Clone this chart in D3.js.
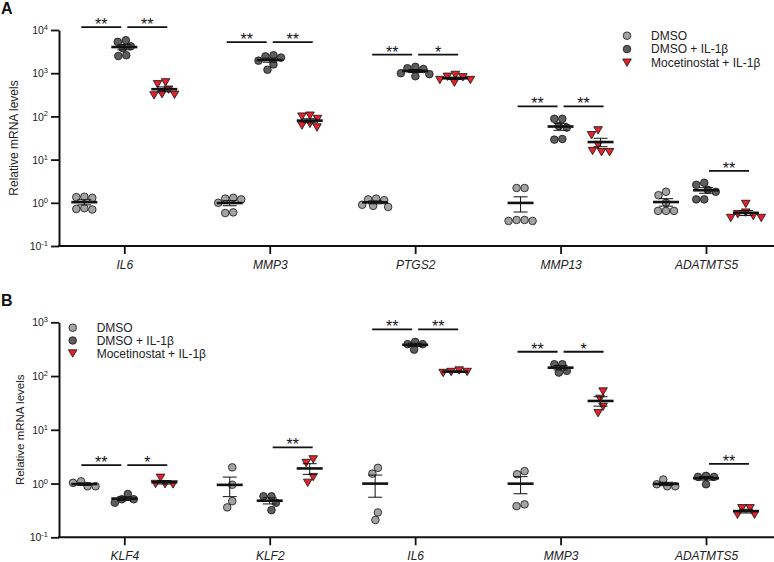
<!DOCTYPE html>
<html><head><meta charset="utf-8">
<script src="https://cdn.jsdelivr.net/npm/d3@7"></script>
<style>
html,body{margin:0;padding:0;background:#fff;}
text{font-family:Arial,"Liberation Sans",Helvetica,sans-serif;}
</style></head>
<body><div id="chart"></div>
<script>
// ---------- data ----------
const groups = ["DMSO", "DMSO + IL-1β", "Mocetinostat + IL-1β"];

const genesA = ["IL6", "MMP3", "PTGS2", "MMP13", "ADATMTS5"];
const a_DMSO = [
  [1.35, 1.3, 1.38, 0.72, 0.75, 0.7],
  [1.2, 1.25, 1.3, 1.0, 0.58, 0.6],
  [1.2, 1.15, 1.25, 0.85, 0.9, 0.8],
  [2.2, 2.2, 0.4, 0.38, 0.38, 0.4],
  [1.8, 1.5, 1.0, 0.65, 0.65, 0.65]
];
const a_IL1b = [
  [5800, 5300, 4200, 3800, 2600, 2500],
  [2600, 2450, 2300, 1950, 1600, 1200],
  [1300, 1400, 1250, 850, 950, 1000],
  [88, 88, 60, 55, 30, 29],
  [2.9, 2.6, 2.0, 1.8, 1.2, 1.2]
];
const a_Moc = [
  [620, 560, 420, 330, 310, 320],
  [88, 105, 100, 56, 68, 62],
  [703, 835, 703, 812, 920, 609],
  [48, 37, 22, 15, 15, 16],
  [0.95, 0.6, 0.55, 0.5, 0.45, 0.45]
];
// significance: [gene, fromGroup, toGroup, label, y value]
const sigA = [
  ["IL6", 0, 1, "**", 11700], ["IL6", 1, 2, "**", 11700],
  ["MMP3", 0, 1, "**", 5250], ["MMP3", 1, 2, "**", 5250],
  ["PTGS2", 0, 1, "**", 2680], ["PTGS2", 1, 2, "*", 2680],
  ["MMP13", 0, 1, "**", 170], ["MMP13", 1, 2, "**", 170],
  ["ADATMTS5", 1, 2, "**", 5.5]
];

const genesB = ["KLF4", "KLF2", "IL6", "MMP3", "ADATMTS5"];
const b_DMSO = [
  [0.89, 1.1, 0.89, 1.03],
  [2.0, 0.95, 0.36, 0.47],
  [1.53, 1.96, 0.29, 0.21],
  [1.49, 1.7, 0.38, 0.41],
  [0.89, 0.97, 1.19, 0.89]
];
const b_IL1b = [
  [0.64, 0.44, 0.51, 0.51],
  [0.58, 0.58, 0.44, 0.32],
  [432, 310, 392, 392],
  [166, 166, 116, 125],
  [1.39, 1.33, 1.33, 0.97]
];
const b_Moc = [
  [1.29, 0.99, 0.97, 0.98],
  [2.43, 2.84, 1.33, 1.04],
  [120, 128, 115, 120],
  [52, 38, 27, 20.6],
  [0.265, 0.35, 0.265, 0.35]
];
const sigB = [
  ["KLF4", 0, 1, "**", 2.2], ["KLF4", 1, 2, "*", 2.2],
  ["KLF2", 1, 2, "**", 4.7],
  ["IL6", 0, 1, "**", 740], ["IL6", 1, 2, "**", 740],
  ["MMP3", 0, 1, "**", 283], ["MMP3", 1, 2, "*", 283],
  ["ADATMTS5", 1, 2, "**", 2.33]
];

const yTicksA = [0.1, 1, 10, 100, 1000, 10000];
const yTicksB = [0.1, 1, 10, 100, 1000];

// ---------- styles ----------
const fills = ["#a3a3a3", "#5e5e5e", "#e3232b"];
const W = 774, H = 562;
const svg = d3.select("#chart").append("svg").attr("width", W).attr("height", H);

function marker(g, gi, x, y) {
  if (gi < 2) {
    g.append("circle").attr("cx", x).attr("cy", y).attr("r", 3.8)
      .attr("fill", fills[gi]).attr("stroke", "#111").attr("stroke-width", 0.8);
  } else {
    g.append("path").attr("d", `M${x-4.3},${y-3.5}L${x+4.3},${y-3.5}L${x},${y+3.9}Z`)
      .attr("fill", fills[2]).attr("stroke", "#111").attr("stroke-width", 0.8).attr("stroke-linejoin", "round");
  }
}

// beeswarm layout: nearest free horizontal slot, then centred
function swarm(vals, y) {
  const dist = 7.8, step = 0.5;
  const pts = vals.map(v => ({ v, y: y(v) })).sort((a, b) => a.y - b.y);
  const placed = [];
  pts.forEach(p => {
    for (let k = 0; k < 200; k++) {
      const off = (k % 2 ? -1 : 1) * Math.ceil(k / 2) * step;
      if (!placed.some(q => Math.hypot(q.dx - off, q.y - p.y) < dist)) {
        p.dx = off; placed.push(p); break;
      }
    }
  });
  const c = (d3.min(placed, d => d.dx) + d3.max(placed, d => d.dx)) / 2;
  placed.forEach(p => p.dx -= c);
  return placed;
}

function panel(cfg) {
  const g = svg.append("g");
  const x = d3.scalePoint().domain(cfg.genes).range([124.3, 706]);
  const gx = d3.scalePoint().domain([0, 1, 2]).range([-40, 40]);
  const y = d3.scaleLog().domain([0.1, cfg.yMax]).range([cfg.y0, cfg.y1]);

  // y axis
  const ya = g.append("g").attr("transform", `translate(59,0)`)
    .call(d3.axisLeft(y).tickValues(cfg.yTicks).tickSize(8).tickSizeOuter(0).tickFormat(""));
  ya.select(".domain").attr("stroke-width", 2).attr("stroke", "#111");
  ya.selectAll(".tick line").attr("stroke-width", 1.8).attr("stroke", "#111");
  ya.selectAll(".tick").each(function (d) {
    const t = d3.select(this).append("text").attr("x", -11).attr("y", 0)
      .attr("text-anchor", "end").attr("fill", "#222").style("font-size", "10.5px");
    t.append("tspan").text("10").attr("dy", "0.35em");
    t.append("tspan").text(String(Math.round(Math.log10(d))))
      .attr("dy", "-0.55em").style("font-size", "7.5px");
  });
  // x axis
  const xa = g.append("g").attr("transform", `translate(0,${cfg.y0})`)
    .call(d3.axisBottom(x).tickSize(8).tickSizeOuter(0).tickFormat(""));
  xa.select(".domain").attr("d", "M58,0H774").attr("stroke-width", 2).attr("stroke", "#111");
  xa.selectAll(".tick line").attr("stroke-width", 1.8).attr("stroke", "#111");
  xa.selectAll(".tick").append("text").attr("y", 23).attr("text-anchor", "middle")
    .attr("fill", "#222").style("font-size", "12px").style("font-style", "italic")
    .text(d => d);

  // y title
  g.append("text").attr("transform", `translate(${cfg.titleX},${(cfg.y0 + cfg.y1) / 2}) rotate(-90)`)
    .attr("text-anchor", "middle").attr("dy", "0.35em").attr("fill", "#222")
    .style("font-size", cfg.titleSize).text("Relative mRNA levels");
  // panel letter
  g.append("text").attr("x", 1).attr("y", cfg.letterY).style("font-size", "16px")
    .style("font-weight", "bold").attr("fill", "#111").text(cfg.letter);

  // points and summary
  const series = [cfg.d0, cfg.d1, cfg.d2];
  cfg.genes.forEach((gene, i) => {
    series.forEach((arr, gi) => {
      const cx = x(gene) + gx(gi);
      swarm(arr[i], y).forEach(p => marker(g, gi, cx + p.dx, p.y));
    });
  });
  cfg.genes.forEach((gene, i) => {
    series.forEach((arr, gi) => {
      const vals = arr[i];
      const cx = x(gene) + gx(gi);
      const m = d3.mean(vals), se = d3.deviation(vals) / Math.sqrt(vals.length);
      const yt = y(m + se), yb = y(Math.max(m - se, 0.01));
      g.append("line").attr("x1", cx).attr("x2", cx).attr("y1", yt).attr("y2", yb)
        .attr("stroke", "#111").attr("stroke-width", 1);
      [yt, yb].forEach(yy => g.append("line").attr("x1", cx - 7).attr("x2", cx + 7)
        .attr("y1", yy).attr("y2", yy).attr("stroke", "#111").attr("stroke-width", 1));
      g.append("line").attr("x1", cx - 13).attr("x2", cx + 13).attr("y1", y(m)).attr("y2", y(m))
        .attr("stroke", "#111").attr("stroke-width", 2.6);
    });
  });

  // significance bars
  cfg.sig.forEach(([gene, a, b, lab, v]) => {
    const xa0 = x(gene) + gx(a), xb0 = x(gene) + gx(b);
    const x1 = b === 2 ? xa0 + 3 : xa0 - 3;
    const x2 = b === 2 ? xb0 + 3 : xb0 - 3;
    const yy = y(v);
    g.append("line").attr("x1", x1).attr("x2", x2).attr("y1", yy).attr("y2", yy)
      .attr("stroke", "#111").attr("stroke-width", 1.8);
    g.append("text").attr("x", (x1 + x2) / 2).attr("y", yy + 3).attr("text-anchor", "middle")
      .style("font-size", "16px").attr("fill", "#111").text(lab);
  });

  // legend
  groups.forEach((name, gi) => {
    const ly = cfg.legY + gi * cfg.legStep;
    marker(g, gi, cfg.legX, ly);
    g.append("text").attr("x", cfg.legX + 24).attr("y", ly).attr("dy", "0.35em")
      .style("font-size", "12px").attr("fill", "#222").text(name);
  });
}

panel({ genes: genesA, d0: a_DMSO, d1: a_IL1b, d2: a_Moc, sig: sigA, yMax: 1e4, yTicks: yTicksA,
  y0: 246, y1: 30, titleX: 14, titleSize: "12px", letter: "A", letterY: 14,
  legX: 627, legY: 35.7, legStep: 13.4 });
panel({ genes: genesB, d0: b_DMSO, d1: b_IL1b, d2: b_Moc, sig: sigB, yMax: 1e3, yTicks: yTicksB,
  y0: 537.3, y1: 322.3, titleX: 20, titleSize: "11.5px", letter: "B", letterY: 306,
  legX: 72.7, legY: 327.7, legStep: 12.8 });
</script></body></html>
